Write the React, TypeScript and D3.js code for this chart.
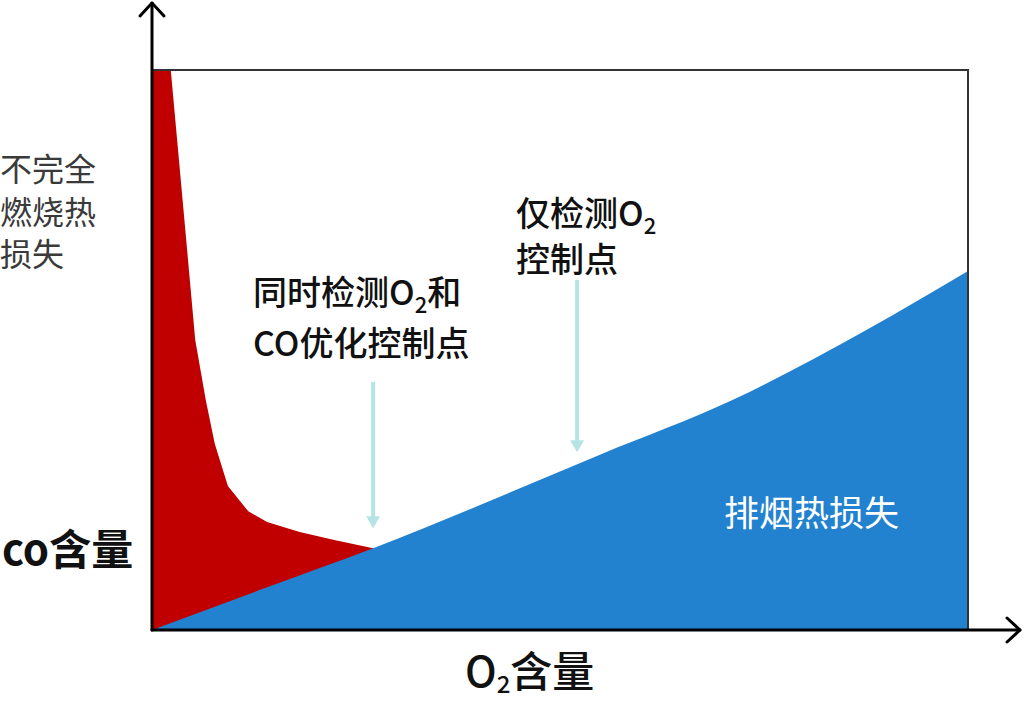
import * as d3 from 'd3';

// O2 content (x) vs. heat loss (y), arbitrary units 0..10
const xDomain = [0, 10];
const yDomain = [0, 10];

// incomplete-combustion loss curve (red)
const coX = [0, 0.23, 0.38, 0.53, 0.66, 0.77, 0.93, 1.08, 1.18, 1.41, 1.81, 2.22, 2.71];
const coY = [10, 10, 7.6, 5.18, 4.1, 3.32, 2.57, 2.3, 2.12, 1.93, 1.75, 1.61, 1.46];

// flue gas heat loss curve (blue)
const flueX = [0, 1.35, 2.71, 5.49, 7.12, 8.76, 10];
const flueY = [0, 0.73, 1.46, 3.13, 4.11, 5.36, 6.41];

// control points marked by arrows
const markX = [2.71, 5.21];

const FONT = "'Noto Sans CJK SC', 'Noto Sans', sans-serif";
const RED = '#c00000';
const BLUE = '#2382d0';
const ARROW = '#b6e4e4';

export default function App() {
	const width = 1024;
	const height = 704;
	const margin = { top: 70, right: 56, bottom: 74, left: 152 };

	const x = d3.scaleLinear().domain(xDomain).range([margin.left, width - margin.right]);
	const y = d3.scaleLinear().domain(yDomain).range([height - margin.bottom, margin.top]);

	const flueData = flueX.map((v, i) => ({ x: v, y: flueY[i] }));
	const coData = coX.map((v, i) => ({ x: v, y: coY[i] }));

	const flueAt = d3.scaleLinear().domain(flueX).range(flueY);

	const flueArea = d3
		.area<{ x: number; y: number }>()
		.x((d) => x(d.x))
		.y0(y(0))
		.y1((d) => y(d.y))
		.curve(d3.curveMonotoneX);

	// red goes under the blue one, so its bottom is the baseline
	const coArea = d3
		.area<{ x: number; y: number }>()
		.x((d) => x(d.x))
		.y0(y(0))
		.y1((d) => y(d.y));

	const x0 = x(0);
	const y0 = y(0);
	const xEnd = x(10);
	const yTop = y(10);

	const tipGap = [20, 12];
	const arrowTop = [382, 280];

	return (
		<svg
			width={width}
			height={height}
			style={{ position: 'absolute', left: 0, top: 0, background: '#fff' }}
			fontFamily={FONT}
		>
			{/* areas */}
			<path d={coArea(coData) ?? ''} fill={RED} />
			<path d={flueArea(flueData) ?? ''} fill={BLUE} />

			{/* frame */}
			<path d={`M${x0},${yTop}H${xEnd}V${y0}`} fill="none" stroke="#333" strokeWidth={2} />

			{/* axes with arrowheads */}
			<g stroke="#000" strokeWidth={3} fill="none" strokeLinecap="round" strokeLinejoin="round">
				<line x1={x0} y1={y0} x2={x0} y2={3} />
				<path d={`M${x0 - 12},${16}L${x0},${3}L${x0 + 12},${16}`} />
				<line x1={x0} y1={y0} x2={1020} y2={y0} />
				<path d={`M${1007},${y0 - 12}L${1020},${y0}L${1007},${y0 + 12}`} />
			</g>

			{/* control point arrows */}
			{markX.map((m, i) => {
				const ax = x(m);
				const tip = y(flueAt(m)) - tipGap[i];
				return (
					<g key={i}>
						<line x1={ax} y1={arrowTop[i]} x2={ax} y2={tip - 10} stroke={ARROW} strokeWidth={4} />
						<path d={`M${ax - 7},${tip - 12}L${ax + 7},${tip - 12}L${ax},${tip}Z`} fill={ARROW} />
					</g>
				);
			})}

			{/* left labels */}
			<g fill="#3a3a3a" fontSize={32}>
				<text x={0} y={181}>不完全</text>
				<text x={0} y={224}>燃烧热</text>
				<text x={0} y={266}>损失</text>
			</g>
			<text x={2} y={565} fontSize={42} fontWeight="bold" fill="#111">
				co含量
			</text>

			{/* annotations */}
			<g fill="#111" fontSize={34} fontWeight={500}>
				<text x={253} y={305}>
					同时检测O<tspan fontSize={22} dy={8}>2</tspan>
					<tspan dy={-8}>和</tspan>
				</text>
				<text x={253} y={356}>CO优化控制点</text>
				<text x={516} y={226}>
					仅检测O<tspan fontSize={22} dy={8}>2</tspan>
				</text>
				<text x={516} y={272}>控制点</text>
			</g>
			<text x={724} y={526} fontSize={35} fill="#fff">
				排烟热损失
			</text>

			{/* x axis title */}
			<text x={465} y={687} fontSize={42} fontWeight={500} fill="#111">
				O<tspan fontSize={24} dy={6}>2</tspan>
				<tspan dy={-6}>含量</tspan>
			</text>
		</svg>
	);
}
